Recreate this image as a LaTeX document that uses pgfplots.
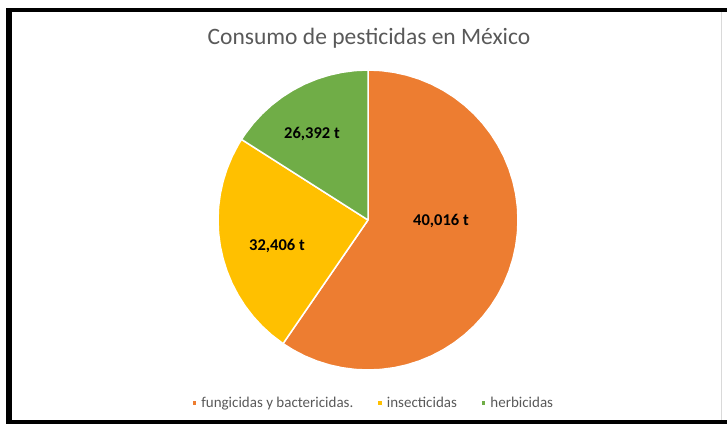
\documentclass[border=0pt]{standalone}
\usepackage{fontspec}
\setmainfont{Carlito}
\usepackage{pgfplots}
\pgfplotsset{compat=1.18}
\definecolor{cOrange}{HTML}{ED7D31}
\definecolor{cYellow}{HTML}{FFC000}
\definecolor{cGreen}{HTML}{70AD47}
\definecolor{cText}{HTML}{595959}
\begin{document}
\begin{tikzpicture}
\begin{axis}[
  scale only axis, width=727pt, height=424pt,
  xmin=-368, xmax=359, ymin=-204, ymax=220,
  hide axis,
  legend columns=3,
  legend style={at={(0.513,0.0495)}, anchor=center, draw=none, fill=none,
    font=\fontsize{15}{17}\selectfont, text=cText,
    nodes={inner sep=1.5pt},
    /tikz/every odd column/.append style={column sep=2pt},
    /tikz/every even column/.append style={column sep=22pt}},
  legend image code/.code={\fill[#1] (0pt,-2.5pt) rectangle (5pt,2.5pt);},
]
% frame
\fill[black] (axis cs:-362,-204) rectangle (axis cs:-356.5,212);
\fill[black] (axis cs:-362,212) rectangle (axis cs:359,207.5);
\fill[black] (axis cs:-362,-199.5) rectangle (axis cs:359,-204);
\draw[gray!30, line width=1pt] (axis cs:353,207.5) -- (axis cs:353,-199.5);
% slices: (angle in degrees, radius)
\addplot[data cs=polar, fill=cOrange, draw=white, line width=1.5pt, line join=round] coordinates {
 (0,0) (90,150) (85,150) (80,150) (75,150) (70,150) (65,150) (60,150) (55,150) (50,150)
 (45,150) (40,150) (35,150) (30,150) (25,150) (20,150) (15,150) (10,150) (5,150) (0,150)
 (-5,150) (-10,150) (-15,150) (-20,150) (-25,150) (-30,150) (-35,150) (-40,150) (-45,150)
 (-50,150) (-55,150) (-60,150) (-65,150) (-70,150) (-75,150) (-80,150) (-85,150) (-90,150)
 (-95,150) (-100,150) (-105,150) (-110,150) (-115,150) (-120,150) (-124.5,150) (0,0)};
\addlegendentry{fungicidas y bactericidas.}
\addplot[data cs=polar, fill=cYellow, draw=white, line width=1.5pt, line join=round] coordinates {
 (0,0) (-124.5,150) (-130,150) (-135,150) (-140,150) (-145,150) (-150,150) (-155,150)
 (-160,150) (-165,150) (-170,150) (-175,150) (-180,150) (-185,150) (-190,150) (-195,150)
 (-200,150) (-205,150) (-210,150) (-212.5,150) (0,0)};
\addlegendentry{insecticidas}
\addplot[data cs=polar, fill=cGreen, draw=white, line width=1.5pt, line join=round] coordinates {
 (0,0) (-212.5,150) (-215,150) (-220,150) (-225,150) (-230,150) (-235,150) (-240,150)
 (-245,150) (-250,150) (-255,150) (-260,150) (-265,150) (-270,150) (0,0)};
\addlegendentry{herbicidas}
% labels
\node[font=\fontsize{16.5}{18}\selectfont\bfseries] at (axis cs:73,-1) {40,016 t};
\node[font=\fontsize{16.5}{18}\selectfont\bfseries] at (axis cs:-91,-26) {32,406 t};
\node[font=\fontsize{16.5}{18}\selectfont\bfseries] at (axis cs:-56,86) {26,392 t};
% title
\node[font=\fontsize{23.5}{26}\selectfont, text=cText] at (axis cs:1,182) {Consumo de pesticidas en México};
\end{axis}
\pgfresetboundingbox
\path[use as bounding box] (current axis.south west) rectangle (current axis.north east);
\end{tikzpicture}
\end{document}
